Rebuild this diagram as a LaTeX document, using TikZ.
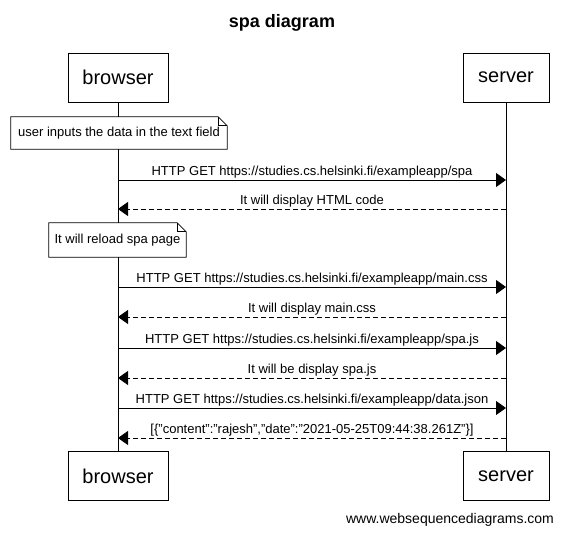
\documentclass[tikz,border=0pt]{standalone}
\usepackage{fontspec}
\setmainfont{Liberation Sans}
\usetikzlibrary{arrows.meta,calc}

\tikzset{
  actor/.style={draw, line width=0.8pt, minimum width=#1, minimum height=49pt, inner sep=0pt, font=\fontsize{20}{24}\selectfont},
  note/.style={fill=white, minimum width=#1, inner sep=0pt, font=\fontsize{13}{15}\selectfont},
  msg/.style={line width=0.8pt, -{Triangle[length=10pt,width=14pt]}},
  reply/.style={msg, dash pattern=on 5pt off 3pt},
  msglabel/.style={font=\fontsize{13}{15}\selectfont, anchor=south, inner sep=1.5pt}
}

% folded corner round a note node
\newcommand{\notefold}[1]{%
  \draw[line width=0.8pt] (#1.north west) -- ($(#1.north east)+(-9,0)$) -- ($(#1.north east)+(0,9)$) -- (#1.south east) -- (#1.south west) -- cycle;
  \draw[line width=0.6pt] ($(#1.north east)+(-9,0)$) -- ($(#1.north east)+(-9,9)$) -- ($(#1.north east)+(0,9)$);
}

\begin{document}
\begin{tikzpicture}[x=1pt,y=1pt,yscale=-1,xscale=1]
\useasboundingbox (0,0) rectangle (564,534);

% Title
\node (title) at (282,23) {\fontsize{18}{22}\selectfont\bfseries spa diagram};

% Participants
\node[actor=100pt] (btop) at (118,77.5) {browser};
\node[actor=86pt] (stop) at (506,77.5) {server};
\node[actor=100pt] (bbot) at (118,476) {browser};
\node[actor=86pt] (sbot) at (506,476) {server};

% Lifelines
\draw[line width=0.8pt] (btop.south) -- (bbot.north);
\draw[line width=0.8pt] (stop.south) -- (sbot.north);

% Notes
\node[note=216pt, minimum height=32pt] (n1) at (119,133) {user inputs the data in the text field};
\notefold{n1}
\node[note=137pt, minimum height=34pt] (n2) at (117.5,240) {It will reload spa page};
\notefold{n2}

% Message ends on the lifelines
\foreach \i/\y in {1/180,2/209,3/287,4/317,5/348,6/378,7/408,8/438}{
  \coordinate (b\i) at (118,\y);
  \coordinate (s\i) at (506,\y);
}

% Messages
\draw[msg] (b1) -- (s1) node[msglabel, midway] {HTTP GET https://studies.cs.helsinki.fi/exampleapp/spa};
\draw[reply] (s2) -- (b2) node[msglabel, midway] {It will display HTML code};
\draw[msg] (b3) -- (s3) node[msglabel, midway] {HTTP GET https://studies.cs.helsinki.fi/exampleapp/main.css};
\draw[reply] (s4) -- (b4) node[msglabel, midway] {It will display main.css};
\draw[msg] (b5) -- (s5) node[msglabel, midway] {HTTP GET https://studies.cs.helsinki.fi/exampleapp/spa.js};
\draw[reply] (s6) -- (b6) node[msglabel, midway] {It will be display spa.js};
\draw[msg] (b7) -- (s7) node[msglabel, midway] {HTTP GET https://studies.cs.helsinki.fi/exampleapp/data.json};
\draw[reply] (s8) -- (b8) node[msglabel, midway] {[\{"content":"rajesh","date":"2021-05-25T09:44:38.261Z"\}]};

% Text Node
\node (wsd) at (450,520) {\fontsize{14}{16}\selectfont www.websequencediagrams.com};
\end{tikzpicture}
\end{document}
